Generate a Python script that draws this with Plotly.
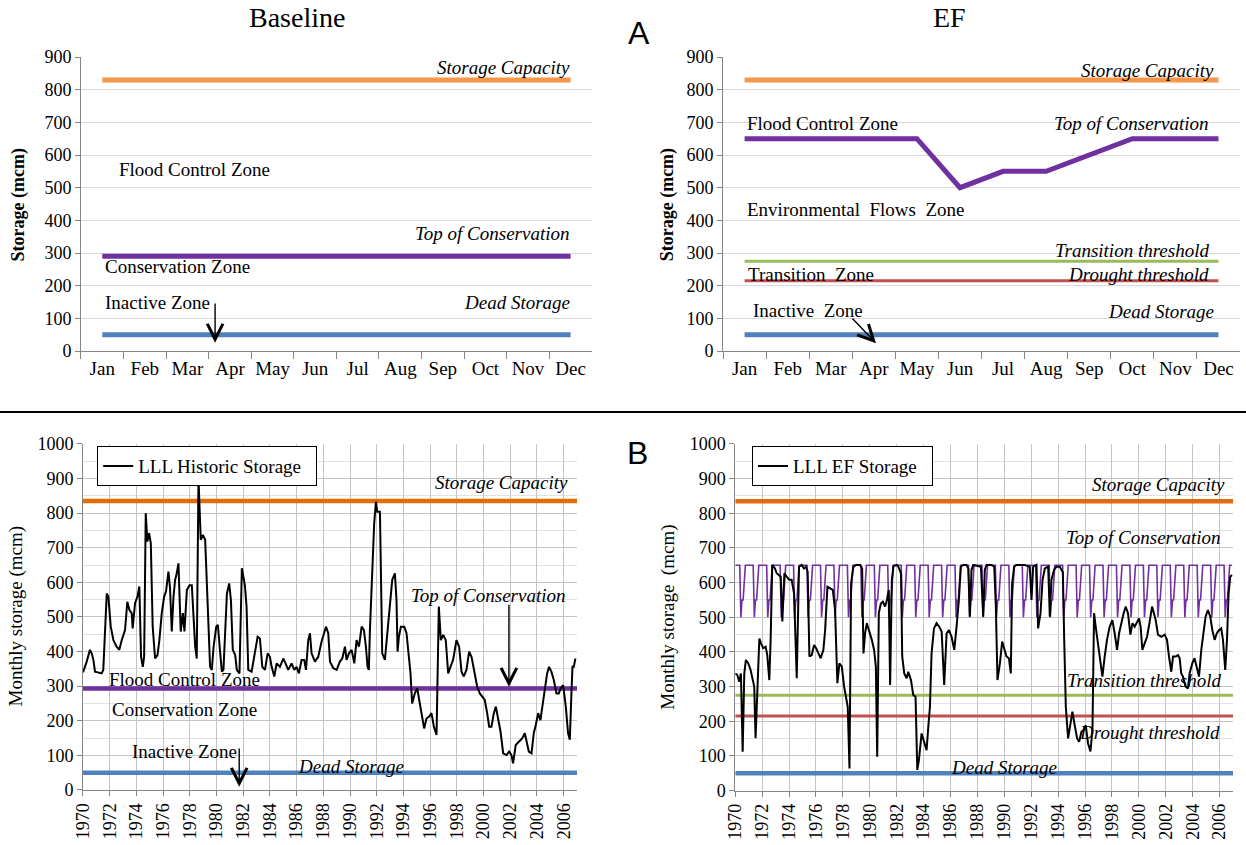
import plotly.graph_objects as go

# ---------------- data ----------------
months = ["Jan", "Feb", "Mar", "Apr", "May", "Jun", "Jul", "Aug", "Sep", "Oct", "Nov", "Dec"]

storage_capacity = 830
baseline_top_conservation = 290
dead_storage = 50
ef_top_conservation = [650, 650, 650, 650, 650, 500, 550, 550, 600, 650, 650, 650]
transition_threshold = 275
drought_threshold = 215

hist_capacity = 835
hist_top_conservation = 293

years_span = [1970, 2007]
year_ticks = list(range(1970, 2007, 2))

hist_t = [1970.00, 1970.28, 1970.52, 1970.65, 1970.78, 1970.90, 1971.40, 1971.52, 1971.78, 1971.90,
          1972.08, 1972.28, 1972.52, 1972.72, 1972.90, 1973.15, 1973.32, 1973.48, 1973.65, 1973.72,
          1973.90, 1974.08, 1974.22, 1974.35, 1974.48, 1974.58, 1974.70, 1974.82, 1974.95, 1975.08,
          1975.22, 1975.40, 1975.58, 1975.72, 1975.90, 1976.08, 1976.22, 1976.40, 1976.52, 1976.65,
          1976.78, 1976.90, 1977.02, 1977.15, 1977.32, 1977.48, 1977.60, 1977.78, 1977.98, 1978.15,
          1978.28, 1978.40, 1978.52, 1978.65, 1978.82, 1978.98, 1979.15, 1979.32, 1979.52, 1979.65,
          1979.78, 1979.98, 1980.10, 1980.28, 1980.40, 1980.52, 1980.65, 1980.78, 1980.95, 1981.08,
          1981.22, 1981.40, 1981.52, 1981.72, 1981.90, 1982.02, 1982.13, 1982.25, 1982.38, 1982.63,
          1982.88, 1983.08, 1983.25, 1983.43, 1983.63, 1983.83, 1984.00, 1984.13, 1984.33, 1984.50,
          1984.75, 1985.00, 1985.17, 1985.37, 1985.62, 1985.82, 1986.00, 1986.17, 1986.37, 1986.57,
          1986.70, 1986.87, 1987.00, 1987.12, 1987.37, 1987.62, 1987.87, 1988.07, 1988.20, 1988.37,
          1988.50, 1988.75, 1989.00, 1989.24, 1989.42, 1989.62, 1989.74, 1989.92, 1990.12, 1990.32,
          1990.49, 1990.67, 1990.87, 1991.04, 1991.19, 1991.31, 1991.41, 1991.49, 1991.66, 1991.81,
          1991.94, 1992.04, 1992.24, 1992.41, 1992.61, 1992.81, 1992.98, 1993.16, 1993.36, 1993.48,
          1993.56, 1993.66, 1993.81, 1994.06, 1994.23, 1994.41, 1994.53, 1994.65, 1994.85, 1995.03,
          1995.18, 1995.35, 1995.55, 1995.73, 1995.93, 1996.10, 1996.28, 1996.48, 1996.65, 1996.80,
          1996.98, 1997.17, 1997.35, 1997.52, 1997.72, 1997.97, 1998.17, 1998.35, 1998.52, 1998.72,
          1998.92, 1999.10, 1999.35, 1999.52, 1999.72, 1999.92, 2000.09, 2000.27, 2000.42, 2000.59,
          2000.77, 2000.92, 2001.09, 2001.27, 2001.47, 2001.72, 2001.92, 2002.09, 2002.21, 2002.41,
          2002.66, 2002.89, 2003.09, 2003.21, 2003.39, 2003.59, 2003.76, 2003.91, 2004.09, 2004.26,
          2004.41, 2004.58, 2004.76, 2004.91, 2005.08, 2005.26, 2005.46, 2005.63, 2005.78, 2005.96,
          2006.16, 2006.33, 2006.46, 2006.58, 2006.66, 2006.76, 2006.88]
hist_v = [340, 371, 405, 395, 376, 342, 337, 347, 568, 559,
          472, 433, 414, 405, 433, 462, 544, 520, 511, 467,
          540, 559, 588, 385, 356, 385, 800, 718, 742, 713,
          472, 380, 390, 433, 511, 559, 574, 631, 583, 458,
          559, 607, 626, 655, 458, 511, 458, 578, 592, 592,
          501, 416, 380, 901, 723, 737, 723, 530, 356, 347,
          414, 472, 477, 395, 342, 347, 443, 568, 597, 549,
          405, 390, 347, 337, 641, 607, 590, 530, 347, 342,
          395, 443, 438, 356, 347, 395, 385, 356, 328, 366,
          356, 380, 366, 347, 366, 347, 356, 337, 376, 376,
          347, 433, 453, 395, 371, 385, 429, 453, 472, 453,
          371, 352, 347, 371, 380, 414, 376, 395, 405, 366,
          433, 414, 472, 462, 414, 356, 347, 462, 636, 771,
          833, 804, 804, 395, 376, 453, 530, 607, 626, 549,
          400, 443, 472, 472, 453, 385, 337, 250, 279, 294,
          260, 212, 178, 207, 212, 222, 183, 159, 530, 433,
          448, 433, 337, 356, 376, 433, 414, 342, 328, 347,
          400, 385, 332, 299, 279, 270, 260, 222, 183, 183,
          222, 241, 202, 169, 106, 101, 111, 101, 77, 130,
          140, 149, 164, 140, 111, 106, 164, 188, 222, 202,
          241, 289, 337, 356, 342, 318, 279, 279, 294, 303,
          241, 164, 145, 279, 356, 356, 380]

ef_t = [1970.00, 1970.15, 1970.30, 1970.42, 1970.55, 1970.67, 1970.79, 1970.97, 1971.14, 1971.29,
        1971.41, 1971.51, 1971.64, 1971.79, 1971.91, 1972.08, 1972.26, 1972.38, 1972.53, 1972.63,
        1972.75, 1972.95, 1973.08, 1973.27, 1973.38, 1973.50, 1973.65, 1973.82, 1974.02, 1974.19,
        1974.37, 1974.57, 1974.74, 1974.94, 1975.11, 1975.26, 1975.38, 1975.51, 1975.68, 1975.86,
        1976.01, 1976.18, 1976.35, 1976.55, 1976.68, 1976.85, 1977.05, 1977.25, 1977.42, 1977.59,
        1977.74, 1977.92, 1978.09, 1978.24, 1978.36, 1978.49, 1978.61, 1978.78, 1978.98, 1979.28,
        1979.43, 1979.53, 1979.65, 1979.78, 1979.95, 1980.15, 1980.32, 1980.45, 1980.55, 1980.67,
        1980.82, 1980.97, 1981.14, 1981.27, 1981.41, 1981.51, 1981.64, 1981.76, 1982.01, 1982.12,
        1982.32, 1982.41, 1982.56, 1982.74, 1982.86, 1983.06, 1983.23, 1983.40, 1983.53, 1983.65,
        1983.85, 1984.05, 1984.22, 1984.35, 1984.47, 1984.59, 1984.77, 1984.96, 1985.16, 1985.34,
        1985.53, 1985.71, 1985.88, 1986.08, 1986.28, 1986.45, 1986.62, 1986.77, 1986.94, 1987.19,
        1987.32, 1987.44, 1987.56, 1987.69, 1987.93, 1988.26, 1988.43, 1988.55, 1988.68, 1989.05,
        1989.25, 1989.37, 1989.49, 1989.67, 1989.84, 1989.99, 1990.16, 1990.34, 1990.48, 1990.58,
        1990.73, 1990.90, 1991.52, 1991.72, 1991.89, 1992.02, 1992.14, 1992.39, 1992.51, 1992.69,
        1992.84, 1993.01, 1993.26, 1993.38, 1993.50, 1993.70, 1993.87, 1994.12, 1994.35, 1994.45,
        1994.57, 1994.74, 1994.86, 1995.06, 1995.23, 1995.41, 1995.56, 1995.73, 1995.90, 1996.05,
        1996.22, 1996.40, 1996.55, 1996.67, 1996.79, 1996.97, 1997.14, 1997.29, 1997.46, 1997.63,
        1997.83, 1998.03, 1998.20, 1998.38, 1998.53, 1998.70, 1998.87, 1999.02, 1999.19, 1999.37,
        1999.52, 1999.69, 1999.86, 2000.01, 2000.13, 2000.26, 2000.43, 2000.61, 2000.80, 2000.98,
        2001.12, 2001.25, 2001.42, 2001.67, 2001.92, 2002.09, 2002.24, 2002.41, 2002.54, 2002.73,
        2002.91, 2003.03, 2003.15, 2003.28, 2003.48, 2003.65, 2003.77, 2003.97, 2004.14, 2004.32,
        2004.47, 2004.64, 2004.81, 2004.96, 2005.13, 2005.31, 2005.46, 2005.63, 2005.80, 2005.95,
        2006.12, 2006.25, 2006.42, 2006.55, 2006.67, 2006.79, 2006.92]
ef_v = [338, 334, 314, 338, 112, 338, 377, 367, 348, 324,
        300, 151, 300, 439, 425, 411, 415, 391, 319, 435,
        651, 641, 627, 622, 617, 488, 627, 617, 608, 608,
        569, 324, 646, 651, 641, 646, 632, 387, 391, 420,
        411, 396, 382, 406, 463, 588, 584, 579, 521, 310,
        367, 358, 300, 262, 242, 64, 598, 646, 651, 651,
        641, 396, 454, 483, 463, 435, 406, 358, 98, 512,
        540, 545, 531, 550, 579, 305, 608, 648, 651, 646,
        627, 387, 338, 324, 343, 319, 276, 271, 60, 88,
        165, 137, 117, 185, 242, 396, 468, 483, 473, 459,
        305, 454, 463, 444, 406, 473, 550, 646, 651, 651,
        641, 502, 637, 651, 648, 646, 502, 637, 651, 651,
        646, 531, 319, 367, 430, 406, 387, 382, 338, 598,
        646, 651, 651, 648, 646, 550, 646, 651, 468, 512,
        608, 641, 646, 502, 608, 637, 646, 646, 630, 435,
        242, 151, 185, 228, 189, 151, 141, 170, 175, 189,
        137, 113, 175, 512, 473, 415, 367, 329, 387, 435,
        473, 492, 454, 406, 454, 487, 512, 531, 512, 450,
        483, 473, 487, 497, 473, 406, 425, 444, 487, 531,
        512, 492, 450, 444, 450, 435, 387, 343, 387, 387,
        391, 382, 338, 329, 300, 295, 338, 367, 382, 348,
        329, 406, 463, 502, 521, 502, 463, 435, 454, 463,
        468, 435, 348, 435, 569, 617, 622]

# monthly EF rule curve laid out over every simulated year
rule_t = [y + m / 12 for y in range(1970, 2007) for m in range(12)]
rule_v = [ef_top_conservation[m] for y in range(1970, 2007) for m in range(12)]

# ---------------- styling ----------------
SERIF = "Liberation Serif, Times New Roman, serif"
SANS = "Liberation Sans, Arial, sans-serif"
ORANGE_A = "#F79646"
ORANGE_B = "#E46C0A"
PURPLE = "#7030A0"
BLUE = "#4F81BD"
GREEN = "#9BBB59"
RED = "#C0504D"
AXIS = "#868686"

fig = go.Figure()


def hline(xs, val, color, width, xa, ya):
    fig.add_trace(go.Scatter(x=xs, y=[val] * len(xs), mode="lines",
                             line=dict(color=color, width=width),
                             showlegend=False, hoverinfo="skip", xaxis=xa, yaxis=ya))


# Top-left: baseline operating zones
hline(months, storage_capacity, ORANGE_A, 5, "x", "y")
hline(months, baseline_top_conservation, PURPLE, 5, "x", "y")
hline(months, dead_storage, BLUE, 5, "x", "y")

# Top-right: EF operating zones
hline(months, storage_capacity, ORANGE_A, 5, "x2", "y2")
fig.add_trace(go.Scatter(x=months, y=ef_top_conservation, mode="lines",
                         line=dict(color=PURPLE, width=5), showlegend=False,
                         xaxis="x2", yaxis="y2"))
hline(months, transition_threshold, GREEN, 3, "x2", "y2")
hline(months, drought_threshold, RED, 3, "x2", "y2")
hline(months, dead_storage, BLUE, 5, "x2", "y2")

# Bottom-left: historic storage
hline(years_span, hist_capacity, ORANGE_B, 4.5, "x3", "y3")
hline(years_span, hist_top_conservation, PURPLE, 4.5, "x3", "y3")
hline(years_span, dead_storage, BLUE, 4.5, "x3", "y3")
fig.add_trace(go.Scatter(x=hist_t, y=hist_v, mode="lines", name="LLL Historic Storage&nbsp;&nbsp;",
                         line=dict(color="black", width=2), xaxis="x3", yaxis="y3",
                         legend="legend"))

# Bottom-right: EF storage
hline(years_span, hist_capacity, ORANGE_B, 4.5, "x4", "y4")
fig.add_trace(go.Scatter(x=rule_t, y=rule_v, mode="lines", line=dict(color=PURPLE, width=1.6),
                         showlegend=False, xaxis="x4", yaxis="y4"))
hline(years_span, transition_threshold, GREEN, 3, "x4", "y4")
hline(years_span, drought_threshold, RED, 3, "x4", "y4")
hline(years_span, dead_storage, BLUE, 4.5, "x4", "y4")
fig.add_trace(go.Scatter(x=ef_t, y=ef_v, mode="lines", name="LLL EF Storage&nbsp;&nbsp;",
                         line=dict(color="black", width=2), xaxis="x4", yaxis="y4",
                         legend="legend2"))

tickfont = dict(family=SERIF, size=18, color="black")

top_x = dict(type="category", tickson="boundaries", ticks="outside", ticklen=7, tickangle=0,
             tickcolor=AXIS, showline=True, linecolor=AXIS, linewidth=1, automargin=False,
             showgrid=False, tickfont=dict(tickfont, size=19), range=[-0.5, 11.5])
top_y = dict(range=[0, 900], dtick=100, showline=True, linecolor=AXIS, ticks="outside",
             ticklen=5, tickcolor=AXIS, gridcolor="#d9d9d9", tickfont=tickfont, zeroline=False,
             automargin=False)
bot_x = dict(range=years_span, tickmode="array", tickvals=year_ticks, ticktext=[str(v) for v in year_ticks],
             tickangle=-90, showline=True, linecolor=AXIS, ticks="outside", ticklen=5,
             tickcolor=AXIS, showgrid=True, gridcolor="#c4c4c4", tickfont=tickfont, zeroline=False,
             automargin=False)
bot_y = dict(range=[0, 1000], dtick=100, showline=True, linecolor=AXIS, ticks="outside",
             ticklen=5, tickcolor=AXIS, gridcolor="#c4c4c4", tickfont=tickfont, zeroline=False,
             automargin=False, minor=dict(dtick=50, showgrid=True, gridcolor="#e2e2e2"))

legend_style = dict(xanchor="left", yanchor="top", bordercolor="black", borderwidth=1,
                    bgcolor="white", font=dict(family=SERIF, size=19, color="black"))

fig.update_layout(
    width=1246, height=845, margin=dict(l=0, r=0, t=0, b=0, autoexpand=False),
    paper_bgcolor="white", plot_bgcolor="white",
    font=dict(family=SERIF, color="black"),
    xaxis=dict(top_x, domain=[0.065, 0.475], anchor="y"),
    yaxis=dict(top_y, domain=[0.5846, 0.9325], anchor="x"),
    xaxis2=dict(top_x, domain=[0.5803, 0.9952], anchor="y2"),
    yaxis2=dict(top_y, domain=[0.5846, 0.9325], anchor="x2"),
    xaxis3=dict(bot_x, domain=[0.0666, 0.4631], anchor="y3"),
    yaxis3=dict(bot_y, domain=[0.0651, 0.4746], anchor="x3"),
    xaxis4=dict(bot_x, domain=[0.5901, 0.9896], anchor="y4"),
    yaxis4=dict(bot_y, domain=[0.0643, 0.4746], anchor="x4"),
    legend=dict(legend_style, x=0.078, y=0.472),
    legend2=dict(legend_style, x=0.6035, y=0.472),
    shapes=[dict(type="line", xref="paper", yref="paper", x0=0, x1=1, y0=0.5124, y1=0.5124,
                 line=dict(color="black", width=2))],
)

ann = []


def text(xref, yref, x, y, s, anchor="left", size=19, italic=False):
    ann.append(dict(xref=xref, yref=yref, x=x, y=y, text=f"<i>{s}</i>" if italic else s,
                    showarrow=False, xanchor=anchor, yanchor="middle",
                    font=dict(family=SERIF, size=size, color="black")))


def label(x, y, s, family, size, angle=0):
    ann.append(dict(xref="paper", yref="paper", x=x, y=y, text=s, showarrow=False,
                    xanchor="center", yanchor="middle", textangle=angle,
                    font=dict(family=family, size=size, color="black")))


def arrow(xref, yref, x, y, ax, ay):
    ann.append(dict(xref=xref, yref=yref, axref=xref, ayref=yref, x=x, y=y, ax=ax, ay=ay,
                    text="", showarrow=True, arrowhead=5, arrowsize=2.2, arrowwidth=1.4,
                    arrowcolor="black"))


# panel titles and letters
label(0.2385, 0.9787, "Baseline", SERIF, 28)
label(0.7624, 0.9787, "EF", SERIF, 28)
label(0.5128, 0.961, "A", SANS, 32)
label(0.512, 0.464, "B", SANS, 32)

# axis titles
label(0.0152, 0.758, "<b>Storage (mcm)</b>", SERIF, 18, -90)
label(0.536, 0.758, "<b>Storage (mcm)</b>", SERIF, 18, -90)
label(0.0125, 0.270, "Monthly storage (mcm)", SERIF, 19, -90)
label(0.536, 0.270, "Monthly storage&nbsp; (mcm)", SERIF, 19, -90)

# top-left labels
text("x", "y", 11.03, 869, "Storage Capacity", "right", italic=True)
text("x", "y", 0.345, 557, "Flood Control Zone")
text("x", "y", 11.03, 361, "Top of Conservation", "right", italic=True)
text("x", "y", 0.016, 260, "Conservation Zone")
text("x", "y", 0.016, 150, "Inactive Zone")
text("x", "y", 11.03, 147, "Dead Storage", "right", italic=True)
arrow("x", "y", 2.65, 25, 2.65, 150)

# top-right labels
text("x2", "y2", 10.94, 860, "Storage Capacity", "right", italic=True)
text("x2", "y2", 0.01, 695, "Flood Control Zone")
text("x2", "y2", 10.82, 695, "Top of Conservation", "right", italic=True)
text("x2", "y2", 0.01, 434, "Environmental&nbsp; Flows&nbsp; Zone")
text("x2", "y2", 10.82, 309, "Transition threshold", "right", italic=True)
text("x2", "y2", 0.03, 233, "Transition&nbsp; Zone")
text("x2", "y2", 10.82, 233, "Drought threshold", "right", italic=True)
text("x2", "y2", 0.15, 125, "Inactive&nbsp; Zone")
text("x2", "y2", 10.94, 120, "Dead Storage", "right", italic=True)
arrow("x2", "y2", 3.05, 24, 2.47, 104)

# bottom-left labels
text("x3", "y3", 2006.45, 890, "Storage Capacity", "right", italic=True)
text("x3", "y3", 2006.3, 563, "Top of Conservation", "right", italic=True)
arrow("x3", "y3", 2001.9, 298, 2001.9, 540)
text("x3", "y3", 1971.8, 318, "Flood Control Zone")
text("x3", "y3", 1972.0, 234, "Conservation Zone")
text("x3", "y3", 1973.5, 110, "Inactive Zone")
arrow("x3", "y3", 1981.7, 9, 1981.7, 124)
text("x3", "y3", 1990.1, 68, "Dead Storage", "center", italic=True)

# bottom-right labels
text("x4", "y4", 2006.53, 882, "Storage Capacity", "right", italic=True)
text("x4", "y4", 2006.23, 729, "Top of Conservation", "right", italic=True)
text("x4", "y4", 2006.23, 319, "Transition threshold", "right", italic=True)
text("x4", "y4", 2006.15, 169, "Drought threshold", "right", italic=True)
text("x4", "y4", 1990.0, 68, "Dead Storage", "center", italic=True)

fig.update_layout(annotations=ann)

fig.write_html("out.html")
